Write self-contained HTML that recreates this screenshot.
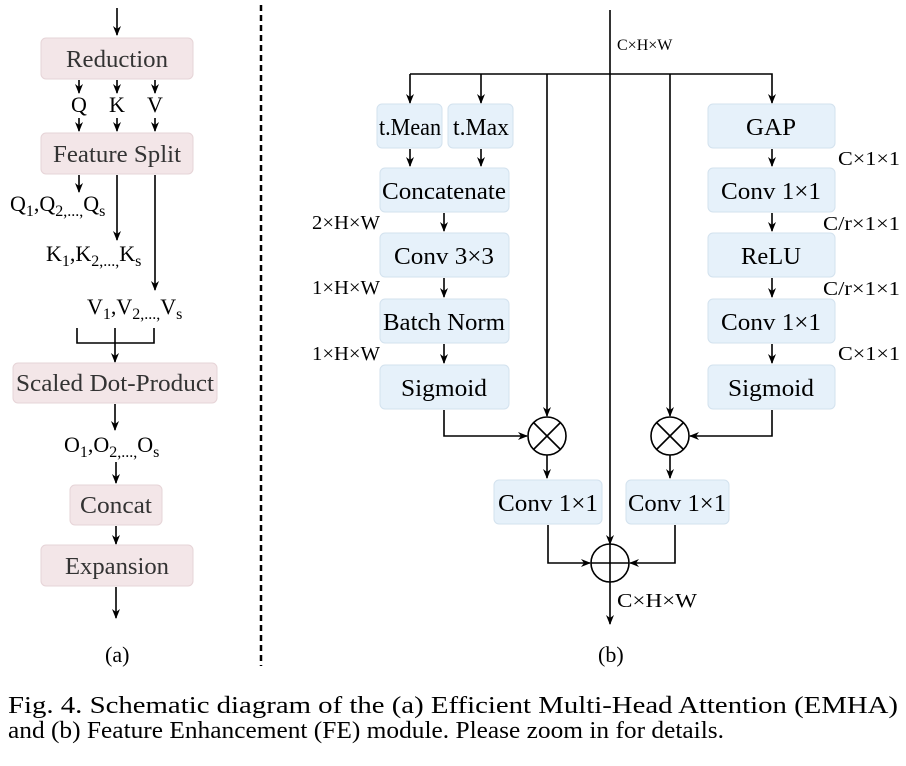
<!DOCTYPE html>
<html><head><meta charset="utf-8"><style>
html,body{margin:0;padding:0;background:#fff;}
svg{display:block;font-family:"Liberation Serif",serif;}
</style></head><body>
<svg width="906" height="766" viewBox="0 0 906 766" xmlns="http://www.w3.org/2000/svg">
<defs>
<marker id="a" markerWidth="10" markerHeight="10" refX="9" refY="5" orient="auto" markerUnits="userSpaceOnUse">
<path d="M0,1 L10,5 L0,9 L3,5 Z" fill="#000"/></marker>
</defs>
<g stroke="#000" stroke-width="1.6" fill="none">
<line x1="117" y1="8" x2="117" y2="35" marker-end="url(#a)"/>
<line x1="79" y1="80" x2="79" y2="93" marker-end="url(#a)"/>
<line x1="117" y1="80" x2="117" y2="93" marker-end="url(#a)"/>
<line x1="155" y1="80" x2="155" y2="93" marker-end="url(#a)"/>
<line x1="79" y1="118" x2="79" y2="131" marker-end="url(#a)"/>
<line x1="117" y1="118" x2="117" y2="131" marker-end="url(#a)"/>
<line x1="155" y1="118" x2="155" y2="131" marker-end="url(#a)"/>
<line x1="79" y1="175" x2="79" y2="192" marker-end="url(#a)"/>
<line x1="117" y1="175" x2="117" y2="240" marker-end="url(#a)"/>
<line x1="155" y1="175" x2="155" y2="290" marker-end="url(#a)"/>
<polyline points="77,328 77,343 154,343 154,328"/>
<line x1="115" y1="328" x2="115" y2="362" marker-end="url(#a)"/>
<line x1="115" y1="404" x2="115" y2="430" marker-end="url(#a)"/>
<line x1="116" y1="462" x2="116" y2="483" marker-end="url(#a)"/>
<line x1="116" y1="526" x2="116" y2="544" marker-end="url(#a)"/>
<line x1="116" y1="587" x2="116" y2="618" marker-end="url(#a)"/>
<line x1="261" y1="5" x2="261" y2="666" stroke-width="2.5" stroke-dasharray="6,4"/>
<line x1="610" y1="10" x2="610" y2="544" marker-end="url(#a)"/>
<line x1="610" y1="544" x2="610" y2="582"/>
<line x1="610" y1="582" x2="610" y2="624" marker-end="url(#a)"/>
<polyline points="410,74 772,74 772,103" marker-end="url(#a)"/>
<line x1="410" y1="74" x2="410" y2="103" marker-end="url(#a)"/>
<line x1="481" y1="74" x2="481" y2="103" marker-end="url(#a)"/>
<line x1="547" y1="74" x2="547" y2="416" marker-end="url(#a)"/>
<line x1="670" y1="74" x2="670" y2="416" marker-end="url(#a)"/>
<line x1="410" y1="149" x2="410" y2="166" marker-end="url(#a)"/>
<line x1="481" y1="149" x2="481" y2="166" marker-end="url(#a)"/>
<line x1="444" y1="213" x2="444" y2="231" marker-end="url(#a)"/>
<line x1="444" y1="278" x2="444" y2="297" marker-end="url(#a)"/>
<line x1="444" y1="344" x2="444" y2="363" marker-end="url(#a)"/>
<polyline points="444,410 444,436 527,436" marker-end="url(#a)"/>
<line x1="772" y1="149" x2="772" y2="166" marker-end="url(#a)"/>
<line x1="772" y1="213" x2="772" y2="231" marker-end="url(#a)"/>
<line x1="772" y1="278" x2="772" y2="297" marker-end="url(#a)"/>
<line x1="772" y1="344" x2="772" y2="363" marker-end="url(#a)"/>
<polyline points="772,410 772,436 690,436" marker-end="url(#a)"/>
<circle cx="547" cy="436" r="19"/>
<line x1="534" y1="423" x2="560" y2="449"/><line x1="560" y1="423" x2="534" y2="449"/>
<circle cx="670" cy="436" r="19"/>
<line x1="657" y1="423" x2="683" y2="449"/><line x1="683" y1="423" x2="657" y2="449"/>
<line x1="547" y1="455" x2="547" y2="478" marker-end="url(#a)"/>
<line x1="670" y1="455" x2="670" y2="478" marker-end="url(#a)"/>
<polyline points="548,525 548,563 590,563" marker-end="url(#a)"/>
<polyline points="675,525 675,563 630,563" marker-end="url(#a)"/>
<circle cx="610" cy="563" r="19"/>
<line x1="591" y1="563" x2="629" y2="563"/>
</g>
<g stroke-width="1">
<g fill="#f3e6e8" stroke="#e6d4d7">
<rect x="41" y="38" width="152" height="41" rx="5"/>
<rect x="41" y="133" width="152" height="41" rx="5"/>
<rect x="13" y="363" width="204" height="40" rx="5"/>
<rect x="70" y="485" width="92" height="40" rx="5"/>
<rect x="41" y="545" width="152" height="41" rx="5"/>
</g>
<g fill="#e6f1fa" stroke="#d3e2ee">
<rect x="377" y="104" width="65" height="44" rx="5"/>
<rect x="448" y="104" width="65" height="44" rx="5"/>
<rect x="380" y="168" width="129" height="44" rx="5"/>
<rect x="380" y="233" width="129" height="44" rx="5"/>
<rect x="380" y="299" width="129" height="44" rx="5"/>
<rect x="380" y="365" width="129" height="44" rx="5"/>
<rect x="708" y="104" width="127" height="44" rx="5"/>
<rect x="708" y="168" width="127" height="44" rx="5"/>
<rect x="708" y="233" width="127" height="44" rx="5"/>
<rect x="708" y="299" width="127" height="44" rx="5"/>
<rect x="708" y="365" width="127" height="44" rx="5"/>
<rect x="494" y="480" width="108" height="44" rx="5"/>
<rect x="626" y="480" width="103" height="44" rx="5"/>
</g>
</g>
<g font-size="24" fill="#333" text-anchor="middle">
<text x="117" y="67" textLength="102" lengthAdjust="spacingAndGlyphs">Reduction</text>
<text x="117" y="162" textLength="128" lengthAdjust="spacingAndGlyphs">Feature Split</text>
<text x="115" y="391" textLength="198" lengthAdjust="spacingAndGlyphs">Scaled Dot-Product</text>
<text x="116" y="513" textLength="72" lengthAdjust="spacingAndGlyphs">Concat</text>
<text x="117" y="574" textLength="104" lengthAdjust="spacingAndGlyphs">Expansion</text>
</g>
<g font-size="22" fill="#000" text-anchor="middle">
<text x="79" y="112">Q</text><text x="117" y="112">K</text><text x="155" y="112">V</text>
</g>
<g font-size="22" fill="#000">
<text x="10" y="211">Q<tspan font-size="16" dy="5">1</tspan><tspan dy="-5">,Q</tspan><tspan font-size="16" dy="5">2,...,</tspan><tspan dy="-5">Q</tspan><tspan font-size="16" dy="5">s</tspan></text>
<text x="46" y="261">K<tspan font-size="16" dy="5">1</tspan><tspan dy="-5">,K</tspan><tspan font-size="16" dy="5">2,...,</tspan><tspan dy="-5">K</tspan><tspan font-size="16" dy="5">s</tspan></text>
<text x="87" y="314">V<tspan font-size="16" dy="5">1</tspan><tspan dy="-5">,V</tspan><tspan font-size="16" dy="5">2,...,</tspan><tspan dy="-5">V</tspan><tspan font-size="16" dy="5">s</tspan></text>
<text x="64" y="452">O<tspan font-size="16" dy="5">1</tspan><tspan dy="-5">,O</tspan><tspan font-size="16" dy="5">2,...,</tspan><tspan dy="-5">O</tspan><tspan font-size="16" dy="5">s</tspan></text>
<text x="105" y="662">(a)</text>
<text x="598" y="662">(b)</text>
</g>
<g font-size="24" fill="#000" text-anchor="middle">
<text x="410" y="135" textLength="62" lengthAdjust="spacingAndGlyphs">t.Mean</text>
<text x="481" y="135" textLength="56" lengthAdjust="spacingAndGlyphs">t.Max</text>
<text x="444" y="199" textLength="124" lengthAdjust="spacingAndGlyphs">Concatenate</text>
<text x="444" y="264" textLength="100" lengthAdjust="spacingAndGlyphs">Conv 3×3</text>
<text x="444" y="330" textLength="122" lengthAdjust="spacingAndGlyphs">Batch Norm</text>
<text x="444" y="396" textLength="86" lengthAdjust="spacingAndGlyphs">Sigmoid</text>
<text x="771" y="135" textLength="50" lengthAdjust="spacingAndGlyphs">GAP</text>
<text x="771" y="199" textLength="100" lengthAdjust="spacingAndGlyphs">Conv 1×1</text>
<text x="771" y="264" textLength="60" lengthAdjust="spacingAndGlyphs">ReLU</text>
<text x="771" y="330" textLength="100" lengthAdjust="spacingAndGlyphs">Conv 1×1</text>
<text x="771" y="396" textLength="86" lengthAdjust="spacingAndGlyphs">Sigmoid</text>
<text x="548" y="511" textLength="100" lengthAdjust="spacingAndGlyphs">Conv 1×1</text>
<text x="677" y="511" textLength="98" lengthAdjust="spacingAndGlyphs">Conv 1×1</text>
</g>
<g font-size="16" fill="#000">
<text x="617" y="50">C×H×W</text>
</g>
<g font-size="20" fill="#000">
<text x="617" y="607" textLength="80" lengthAdjust="spacingAndGlyphs">C×H×W</text>
<text x="312" y="229" textLength="68" lengthAdjust="spacingAndGlyphs">2×H×W</text>
<text x="312" y="294" textLength="68" lengthAdjust="spacingAndGlyphs">1×H×W</text>
<text x="312" y="360" textLength="68" lengthAdjust="spacingAndGlyphs">1×H×W</text>
<text x="838" y="165" textLength="62" lengthAdjust="spacingAndGlyphs">C×1×1</text>
<text x="823" y="230" textLength="77" lengthAdjust="spacingAndGlyphs">C/r×1×1</text>
<text x="823" y="295" textLength="77" lengthAdjust="spacingAndGlyphs">C/r×1×1</text>
<text x="838" y="360" textLength="62" lengthAdjust="spacingAndGlyphs">C×1×1</text>
</g>
<g font-size="24" fill="#000">
<text x="8" y="713" textLength="890" lengthAdjust="spacingAndGlyphs">Fig. 4.  Schematic diagram of the (a) Efficient Multi-Head Attention (EMHA)</text>
<text x="8" y="738" textLength="716" lengthAdjust="spacingAndGlyphs">and (b) Feature Enhancement (FE) module. Please zoom in for details.</text>
</g>
</svg>
</body></html>
